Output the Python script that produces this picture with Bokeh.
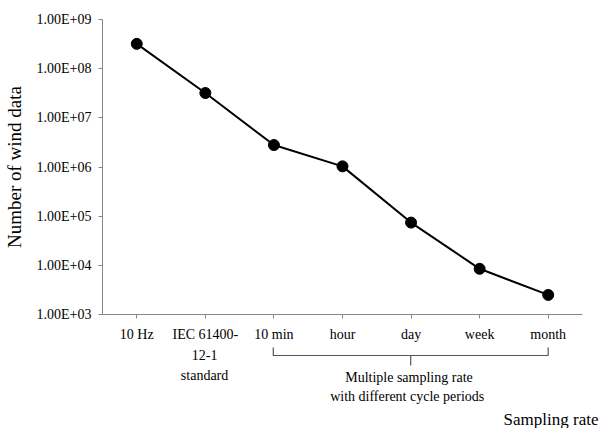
from bokeh.plotting import figure
from bokeh.models import FactorRange, Range1d, FixedTicker
from bokeh.core.properties import value
from bokeh.embed import file_html
from bokeh.resources import INLINE

# ---- data ----
x_labels = ["10 Hz", "IEC 61400-\n12-1\nstandard", "10 min", "hour", "day", "week", "month"]
counts = [3.2e8, 3.2e7, 2.8e6, 1.03e6, 7.4e4, 8.5e3, 2.5e3]
y_ticks = [1e3, 1e4, 1e5, 1e6, 1e7, 1e8, 1e9]
y_tick_labels = ["1.00E+03", "1.00E+04", "1.00E+05", "1.00E+06", "1.00E+07", "1.00E+08", "1.00E+09"]
group_first, group_mid, group_last = "10 min", "day", "month"
group_lines = ["Multiple  sampling rate", "with  different  cycle periods"]
y_title = "Number of wind data"
x_title = "Sampling rate"

# first line of each label is the axis factor; further lines go underneath
factors = [lab.split("\n")[0] for lab in x_labels]

# ---- layout ----
FONT = "Liberation Serif"
AXIS_GRAY = "#878787"
W = 600
H1, H2 = 345, 83
TOP, BOTTOM, LEFT, RIGHT = 19, 31, 101, 18
FRAME_W = W - LEFT - RIGHT
N = len(x_labels)
STEP = FRAME_W / N

# ---- main chart ----
p = figure(width=W, height=H1, output_backend="svg", toolbar_location=None,
           x_range=FactorRange(*factors), y_axis_type="log",
           y_range=Range1d(y_ticks[0], y_ticks[-1]),
           min_border_top=TOP, min_border_bottom=BOTTOM,
           min_border_left=LEFT, min_border_right=RIGHT)
p.outline_line_color = None
p.grid.visible = False

p.line(factors, counts, line_color="black", line_width=2)
p.scatter(factors, counts, size=11, fill_color="black", line_color="black")

ya = p.yaxis[0]
ya.ticker = FixedTicker(ticks=y_ticks, minor_ticks=[])
ya.major_label_overrides = {t: l for t, l in zip(y_ticks, y_tick_labels)}
ya.axis_label = y_title
ya.axis_label_text_font = FONT
ya.axis_label_text_font_size = "19px"
ya.axis_label_text_font_style = "normal"
ya.axis_label_text_color = "black"
ya.axis_label_standoff = 9
ya.major_label_text_font = FONT
ya.major_label_text_font_size = "14px"
ya.major_label_text_color = "black"
ya.major_label_standoff = 7
ya.axis_line_color = AXIS_GRAY
ya.major_tick_line_color = AXIS_GRAY
ya.major_tick_out = 4
ya.major_tick_in = 0
ya.minor_tick_line_color = None

xa = p.xaxis[0]
xa.major_label_text_font = FONT
xa.major_label_text_font_size = "14px"
xa.major_label_text_color = "black"
xa.major_label_standoff = 8
xa.major_label_orientation = "horizontal"
xa.axis_line_color = AXIS_GRAY
xa.major_tick_line_color = AXIS_GRAY
xa.major_tick_out = 4
xa.major_tick_in = 0

# ---- lower strip: continuation lines, bracket, group text, axis title ----
q = figure(width=W, height=H2, output_backend="svg", toolbar_location=None,
           x_range=Range1d(-LEFT / STEP, (W - LEFT) / STEP),
           y_range=Range1d(H2, 0),
           x_axis_location=None, y_axis_location=None,
           min_border=0, min_border_left=0, min_border_right=0,
           min_border_top=0, min_border_bottom=0)
q.outline_line_color = None
q.grid.visible = False

def xc(lab):
    return factors.index(lab) + 0.5

cx, cy, ct = [], [], []
for lab in x_labels:
    parts = lab.split("\n")
    for j, part in enumerate(parts[1:]):
        cx.append(xc(parts[0]))
        cy.append(9 + 21 * j)
        ct.append(part)
q.text(cx, cy, text=ct, text_align="center", text_baseline="middle",
       text_font=value(FONT), text_font_size="14px", text_color="black")

L, C, R = xc(group_first), xc(group_mid), xc(group_last)
y_top, y_mid, y_bot = 2, 10, 20
q.line([L, L, R, R], [y_top, y_mid, y_mid, y_top], line_color="#555555", line_width=1.2)
q.line([C, C], [y_mid, y_bot], line_color="#555555", line_width=1.2)

q.text([C] * len(group_lines), [32 + 19 * i for i in range(len(group_lines))],
       text=group_lines, text_align="center", text_baseline="middle",
       text_font=value(FONT), text_font_size="14px", text_color="black")

q.text([(W - 2 - LEFT) / STEP], [74], text=[x_title], text_align="right",
       text_baseline="middle", text_font=value(FONT), text_font_size="17px",
       text_color="black")

open("out.html", "w").write(file_html([p, q], INLINE))
